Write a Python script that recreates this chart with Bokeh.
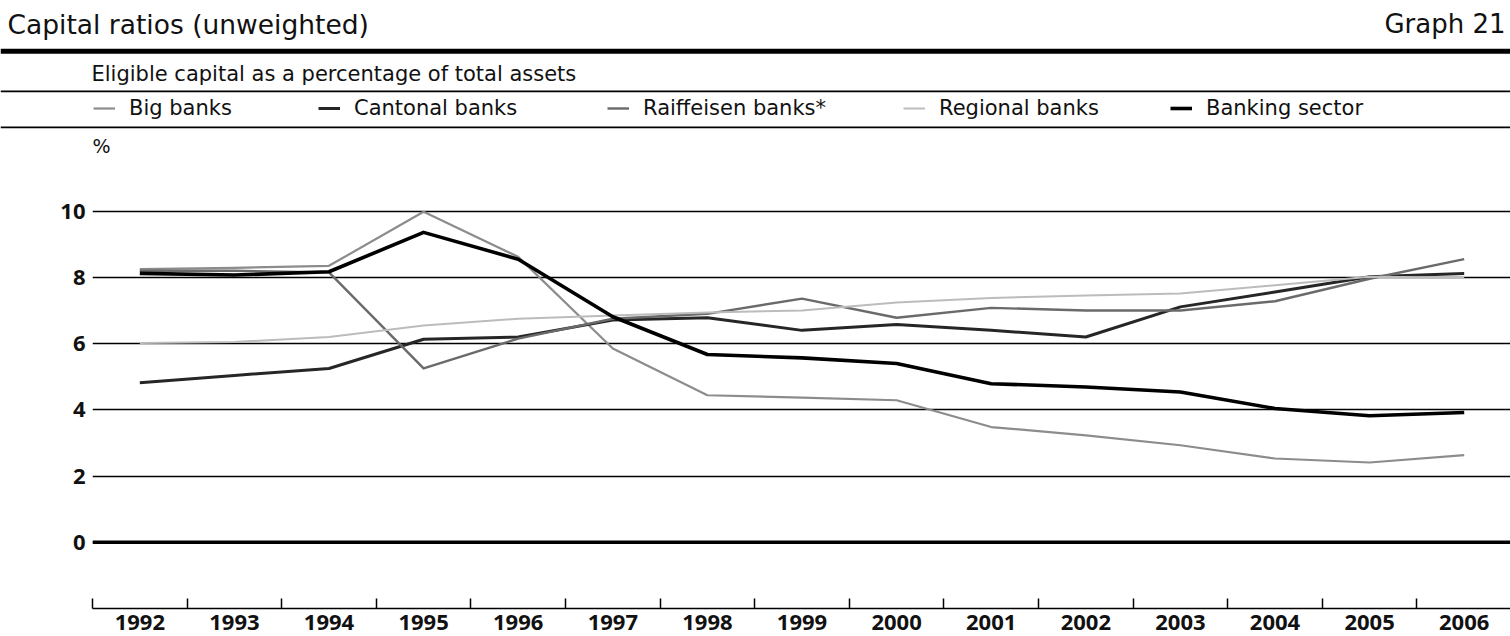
from bokeh.plotting import figure
from bokeh.models import (ColumnDataSource, Range1d, FixedTicker, Span, Label, Legend, LegendItem)
from bokeh.embed import file_html
from bokeh.resources import INLINE

# ---------------- data ----------------
years = list(range(1992, 2007))
big_banks = [8.25, 8.29, 8.35, 9.98, 8.62, 5.85, 4.44, 4.37, 4.29, 3.48, 3.23, 2.93, 2.53, 2.41, 2.63]
cantonal_banks = [4.82, 5.04, 5.25, 6.13, 6.20, 6.71, 6.78, 6.40, 6.58, 6.40, 6.20, 7.11, 7.56, 8.02, 8.12]
raiffeisen_banks = [8.20, 8.20, 8.15, 5.25, 6.15, 6.75, 6.90, 7.36, 6.78, 7.08, 7.00, 7.00, 7.28, 7.96, 8.55]
regional_banks = [6.02, 6.05, 6.20, 6.55, 6.75, 6.85, 6.94, 7.00, 7.24, 7.38, 7.45, 7.51, 7.76, 8.02, 8.00]
banking_sector = [8.12, 8.07, 8.17, 9.36, 8.55, 6.81, 5.67, 5.57, 5.40, 4.79, 4.69, 4.54, 4.04, 3.82, 3.92]
y_ticks = [0, 2, 4, 6, 8, 10]

series_names = ["Big banks", "Cantonal banks", "Raiffeisen banks*", "Regional banks", "Banking sector"]
series_values = [big_banks, cantonal_banks, raiffeisen_banks, regional_banks, banking_sector]

styles = [
    dict(line_color="#8c8c8c", line_width=2.2),
    dict(line_color="#262626", line_width=3.0),
    dict(line_color="#6a6a6a", line_width=2.4),
    dict(line_color="#bcbcbc", line_width=2.0),
    dict(line_color="#000000", line_width=3.6),
]

TXT = "DejaVu Sans"
NUM = "Open Sans"
INK = "#111111"

W = 1510
HEAD_H = 161
CHART_H = 475
FL, FB = 92, 28

# ---------------- header figure (its frame is the whole canvas, y grows downwards) ----------------
head = figure(width=W, height=HEAD_H, x_range=Range1d(0, W), y_range=Range1d(HEAD_H, 0),
              x_axis_location=None, y_axis_location=None,
              output_backend="svg", toolbar_location=None, min_border=0)
head.grid.visible = False
head.outline_line_color = None

head.add_layout(Label(x=7, y=24, text="Capital ratios (unweighted)", text_font=TXT,
                      text_font_size="26.5px", text_color=INK, text_baseline="middle"))
head.add_layout(Label(x=1505, y=23, text="Graph 21", text_font=TXT, text_align="right",
                      text_font_size="26px", text_color=INK, text_baseline="middle"))
head.add_layout(Span(location=50.8, dimension="width", line_color="#000000", line_width=5))
head.add_layout(Label(x=91, y=73, text="Eligible capital as a percentage of total assets",
                      text_font=TXT, text_font_size="21px", text_color=INK, text_baseline="middle"))
head.add_layout(Span(location=90.8, dimension="width", line_color="#000000", line_width=1.8))
head.add_layout(Span(location=126.8, dimension="width", line_color="#000000", line_width=1.8))
head.add_layout(Label(x=92, y=145, text="%", text_font=TXT, text_font_size="19px",
                      text_color=INK, text_baseline="middle"))

# legend keys: placeholder renderers carrying the series styles (nothing visible is drawn)
legend_x = [93, 318, 607, 903, 1170]
placeholder = ColumnDataSource(data=dict(x=[float("nan")], y=[float("nan")]))
for name, st, lx in zip(series_names, styles, legend_x):
    r = head.line(x="x", y="y", source=placeholder, **st)
    lg = Legend(items=[LegendItem(label=name, renderers=[r])], location=(lx, HEAD_H - 120),
                orientation="horizontal", padding=0, margin=0, spacing=0,
                glyph_width=22, glyph_height=24, label_height=24, label_standoff=14,
                label_text_font=TXT, label_text_font_size="21px", label_text_color=INK,
                label_text_baseline="middle",
                border_line_color=None, background_fill_alpha=0)
    head.add_layout(lg, "center")

# ---------------- chart figure ----------------
FW = W - FL
p = figure(width=W, height=CHART_H, x_range=Range1d(1991.5, 1991.5 + FW / 94.6), y_range=Range1d(-2, 11.5),
           output_backend="svg", toolbar_location=None,
           min_border_left=FL, min_border_right=0, min_border_top=0, min_border_bottom=FB)
p.outline_line_color = None
p.xgrid.visible = False
p.ygrid.ticker = FixedTicker(ticks=y_ticks)
p.ygrid.grid_line_color = "#000000"
p.ygrid.grid_line_width = 1.6
p.add_layout(Span(location=0, dimension="width", line_color="#000000", line_width=3.5))

for vals, st in zip(series_values, styles):
    p.line(years, vals, line_join="round", **st)

yax = p.yaxis[0]
yax.ticker = FixedTicker(ticks=y_ticks)
yax.axis_line_color = None
yax.major_tick_line_color = None
yax.major_tick_out = 0
yax.major_tick_in = 0
yax.minor_tick_line_color = None
yax.minor_tick_out = 0
yax.major_label_text_font = NUM
yax.major_label_text_font_style = "bold"
yax.major_label_text_font_size = "22px"
yax.major_label_text_color = INK
yax.major_label_standoff = 7

xax = p.xaxis[0]
xax.ticker = FixedTicker(ticks=years, minor_ticks=[y - 0.5 for y in years] + [years[-1] + 0.5])
xax.major_tick_line_color = None
xax.major_tick_out = 0
xax.major_tick_in = 0
xax.minor_tick_line_color = "#000000"
xax.minor_tick_line_width = 1.5
xax.minor_tick_in = 10
xax.minor_tick_out = 0
xax.axis_line_color = "#000000"
xax.axis_line_width = 1.6
xax.major_label_text_font = NUM
xax.major_label_text_font_style = "bold"
xax.major_label_text_font_size = "22px"
xax.major_label_text_color = INK
xax.major_label_standoff = 6

open("out.html", "w").write(file_html([head, p], INLINE))
